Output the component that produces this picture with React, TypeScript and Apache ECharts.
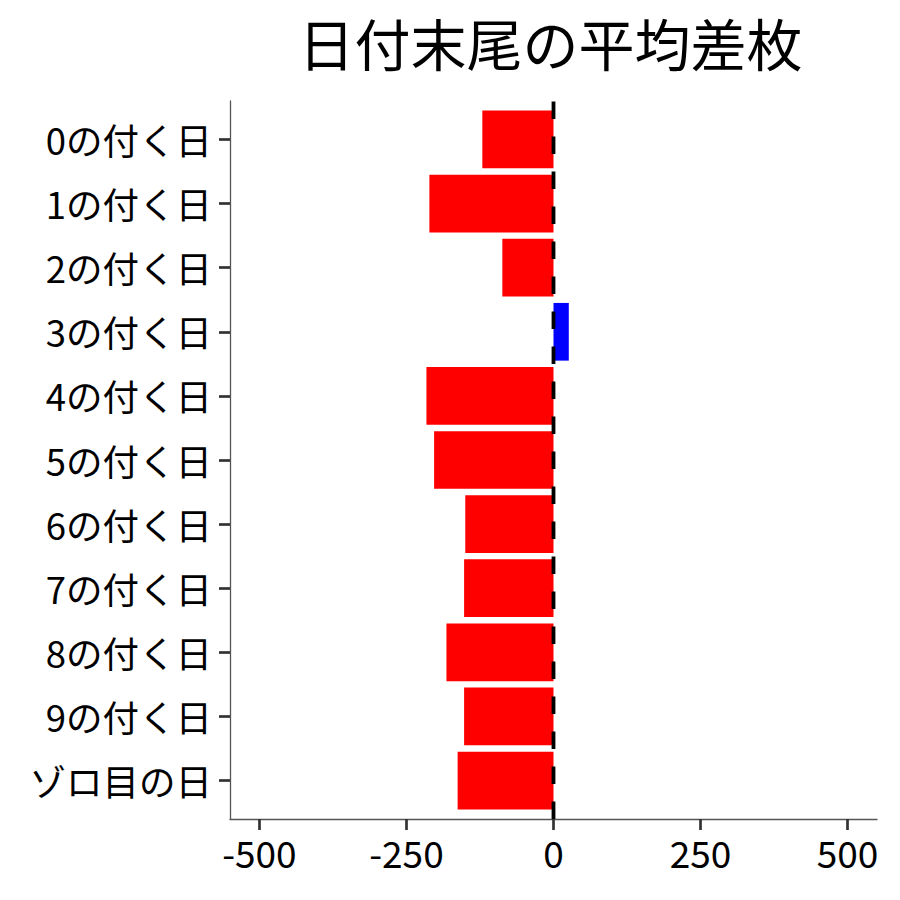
import React, { useEffect, useRef } from "react";
import * as echarts from "echarts";

const TITLE = "日付末尾の平均差枚";
const categories = [
  "0の付く日",
  "1の付く日",
  "2の付く日",
  "3の付く日",
  "4の付く日",
  "5の付く日",
  "6の付く日",
  "7の付く日",
  "8の付く日",
  "9の付く日",
  "ゾロ目の日",
];
const diffValues = [-121, -211, -87, 26, -216, -203, -150, -152, -182, -152, -163];
const xTickValues = [-500, -250, 0, 250, 500];
const xRange = [-550, 550];
const zeroLine = [
  [0, 0],
  [0, 1],
];

const FONT = "'Noto Sans CJK JP', 'Noto Sans', sans-serif";

export default function App() {
  const ref = useRef<HTMLDivElement>(null);

  useEffect(() => {
    if (!ref.current) return;
    const chart = echarts.init(ref.current, undefined, { renderer: "svg" });
    const gridLeft = 230;
    const gridTop = 101;
    const gridW = 647;
    const gridH = 718;
    const n = categories.length;
    const unit = gridH / (n + 0.2);
    chart.setOption({
      animation: false,
      backgroundColor: "#ffffff",
      title: {
        text: TITLE,
        left: gridLeft + gridW / 2 - 3,
        top: 6,
        padding: 0,
        textAlign: "center",
        textStyle: {
          fontSize: 56,
          lineHeight: 70,
          fontWeight: "normal",
          color: "#000",
          fontFamily: FONT,
        },
      },
      grid: [
        { left: gridLeft, top: gridTop, width: gridW, height: gridH },
        { left: gridLeft, top: gridTop + unit * 0.1, width: gridW, height: unit * n },
      ],
      xAxis: [
        {
          gridIndex: 0,
          type: "value",
          min: xRange[0],
          max: xRange[1],
          splitLine: { show: false },
          axisLine: { show: true, onZero: false, lineStyle: { color: "#555", width: 1.3 } },
          axisTick: {
            show: true,
            customValues: xTickValues,
            length: 11,
            lineStyle: { color: "#333", width: 2.7 },
          },
          axisLabel: {
            customValues: xTickValues,
            fontSize: 37,
            color: "#000",
            fontFamily: FONT,
            margin: 14,
          },
        },
        {
          gridIndex: 1,
          type: "value",
          min: xRange[0],
          max: xRange[1],
          show: false,
          axisLine: { onZero: false },
        },
      ],
      yAxis: [
        {
          gridIndex: 0,
          type: "value",
          min: 0,
          max: 1,
          splitLine: { show: false },
          axisLine: { show: true, onZero: false, lineStyle: { color: "#555", width: 1.3 } },
          axisTick: { show: false },
          axisLabel: { show: false },
        },
        {
          gridIndex: 1,
          type: "category",
          data: categories,
          inverse: true,
          axisLine: { show: false, onZero: false },
          axisTick: {
            show: true,
            alignWithLabel: true,
            length: 11,
            lineStyle: { color: "#333", width: 2.7 },
          },
          axisLabel: { fontSize: 36.5, color: "#000", fontFamily: FONT, margin: 18 },
        },
      ],
      series: [
        {
          type: "bar",
          xAxisIndex: 1,
          yAxisIndex: 1,
          barWidth: "90%",
          data: diffValues.map((v) => ({
            value: v,
            itemStyle: { color: v < 0 ? "#FF0000" : "#0000FF" },
          })),
          z: 2,
        },
        {
          type: "line",
          xAxisIndex: 0,
          yAxisIndex: 0,
          data: zeroLine,
          symbol: "none",
          silent: true,
          lineStyle: { color: "#000", width: 3.8, type: [17.5, 17.5] },
          z: 5,
        },
      ],
    });
    return () => chart.dispose();
  }, []);

  return (
    <div
      ref={ref}
      style={{ position: "fixed", left: 0, top: 0, width: 900, height: 900, background: "#fff" }}
    />
  );
}
